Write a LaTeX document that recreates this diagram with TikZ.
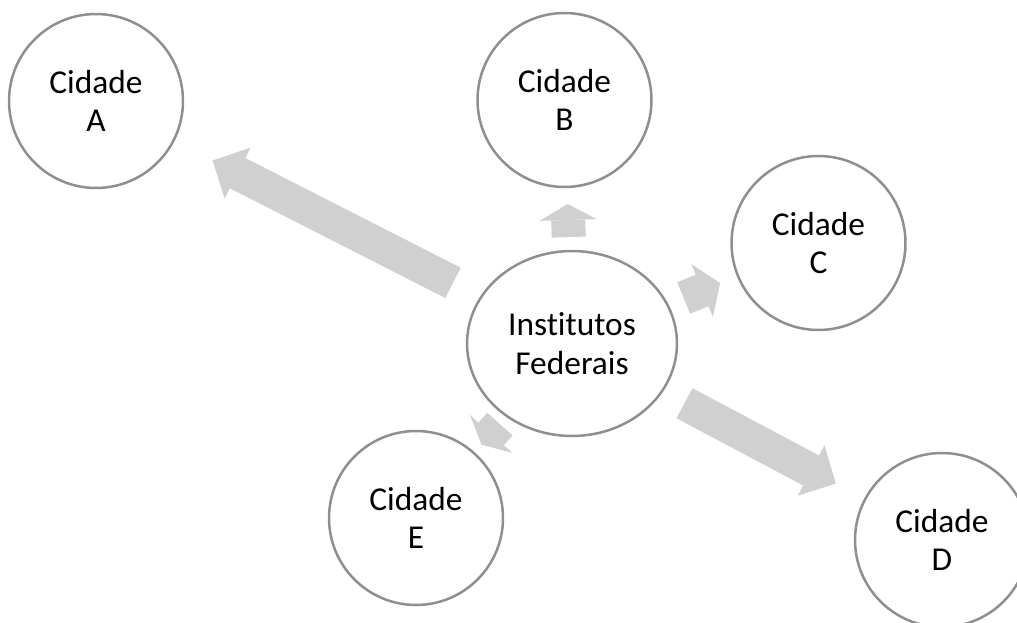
\documentclass[tikz,border=0pt]{standalone}
\usepackage{fontspec}
\setmainfont{Carlito}[Ligatures=NoCommon]
\usetikzlibrary{shapes.geometric,arrows.meta,calc}
\definecolor{borda}{HTML}{8F8F8F}
\definecolor{cinza}{HTML}{D0D0D0}

\begin{document}
\begin{tikzpicture}[x=0.02cm,y=-0.02cm,
cidade/.style={draw=borda,fill=white,circle,line width=0.05cm,minimum size=3.48cm,align=center,font=\fontsize{19}{21.8}\selectfont},
instituto/.style={cidade,ellipse,minimum width=4.2cm,minimum height=3.7cm},
seta/.style={cinza,line width=0.68cm,-{Triangle[length=#1,width=1.14cm,line width=0pt]}}]

\useasboundingbox (0,0) rectangle (1017,622);

\draw (572,343.5) node[instituto] (IF) {Institutos\\Federais};
\draw (96,101) node[cidade] (A) {Cidade\\A};
\draw (564.5,100) node[cidade] (B) {Cidade\\B};
\draw (818.5,243) node[cidade] (C) {Cidade\\C};
\draw (942,540) node[cidade] (D) {Cidade\\D};
\draw (416,518) node[cidade] (E) {Cidade\\E};

\draw[seta=0.56cm] ($(IF)!0.25!(A)$) -- ($(IF)!0.755!(A)$);
\draw[seta=0.32cm] ($(IF)!0.437!(B)$) -- ($(IF)!0.573!(B)$);
\draw[seta=0.39cm] ($(IF)!0.453!(C)$) -- ($(IF)!0.601!(C)$);
\draw[seta=0.56cm] ($(IF)!0.304!(D)$) -- ($(IF)!0.713!(D)$);
\draw[seta=0.29cm] ($(IF)!0.462!(E)$) -- ($(IF)!0.58!(E)$);

\end{tikzpicture}
\end{document}
